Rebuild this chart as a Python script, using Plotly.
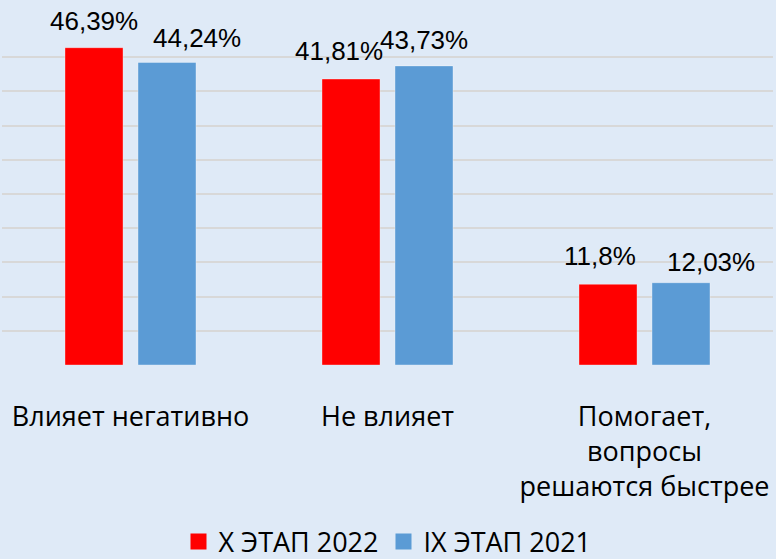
import plotly.graph_objects as go

# Survey answers and shares per stage
categories = ["Влияет негативно", "Не влияет", "Помогает,<br>вопросы<br>решаются быстрее"]
series_names = ["X ЭТАП 2022", "IX ЭТАП 2021"]
values_2022 = [46.39, 41.81, 11.8]
values_2021 = [44.24, 43.73, 12.03]
labels_2022 = ["46,39%", "41,81%", "11,8%"]
labels_2021 = ["44,24%", "43,73%", "12,03%"]

colors = ["#FF0000", "#5B9BD5"]
bg = "#DFEAF7"

# label placement tweaks (pixels): horizontal nudge and height above bar top
nudge_2022 = [(0, 27), (-12, 28), (-8, 28)]
nudge_2021 = [(30, 24), (0, 26), (30, 21)]
slot = 73  # px between the two bar centres in a group

fig = go.Figure()
for name, vals, col in [(series_names[0], values_2022, colors[0]),
                        (series_names[1], values_2021, colors[1])]:
    fig.add_trace(go.Bar(
        x=categories, y=vals, name=name, showlegend=False,
        marker=dict(color=col, line=dict(color="rgba(255,255,255,0.35)", width=1)),
        hoverinfo="skip",
    ))

# legend entries with larger square swatches
for name, col in zip(series_names, colors):
    fig.add_trace(go.Scatter(
        x=[None], y=[None], mode="markers", name=name,
        marker=dict(symbol="square", size=17, color=col),
        hoverinfo="skip",
    ))

annotations = []
for vals, labs, nud, side in [
        (values_2022, labels_2022, nudge_2022, -1),
        (values_2021, labels_2021, nudge_2021, 1)]:
    for cat, v, lab, (dx, dy) in zip(categories, vals, labs, nud):
        annotations.append(dict(
            x=cat, y=v, xref="x", yref="y", text=lab, showarrow=False,
            xanchor="center", yanchor="middle",
            xshift=side * slot / 2 + dx, yshift=dy,
            font=dict(family="Liberation Sans, Arial", size=26, color="#000000"),
        ))

fig.update_layout(
    width=776, height=559,
    margin=dict(l=2, r=3, t=23, b=194, autoexpand=False),
    paper_bgcolor=bg, plot_bgcolor=bg,
    barmode="group", bargap=0.432, bargroupgap=0.205,
    showlegend=True,
    legend=dict(
        orientation="h", x=0.5, xanchor="center",
        y=-0.5175, yanchor="middle",
        itemsizing="trace", itemwidth=30, tracegroupgap=0,
        font=dict(family="Open Sans", size=27, color="#000000"),
        bgcolor="rgba(0,0,0,0)", borderwidth=0,
        itemclick=False, itemdoubleclick=False,
    ),
    annotations=annotations,
    font=dict(family="Open Sans", color="#000000"),
)
fig.update_xaxes(
    type="category", range=[-0.5, 2.5], showgrid=False, zeroline=False,
    showline=False, ticks="", ticklabelstandoff=33, automargin=False,
    tickfont=dict(family="Open Sans", size=27, color="#000000"),
    fixedrange=True,
)
fig.update_yaxes(
    range=[0, 50], dtick=5, showgrid=True, gridcolor="#D8D8D8", gridwidth=2,
    zeroline=False, showticklabels=False, ticks="", fixedrange=True,
    automargin=False,
)

fig.write_html("out.html", config={"displayModeBar": False})
